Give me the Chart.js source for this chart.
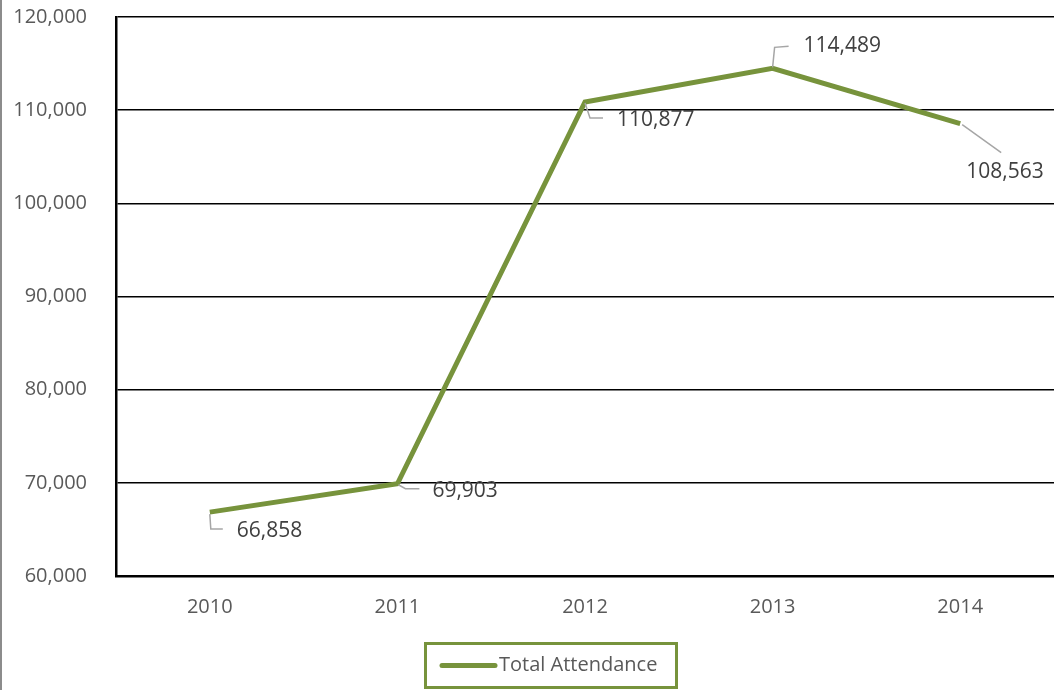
<!DOCTYPE html>
<html>
<head>
<meta charset="utf-8">
<script src="https://cdn.jsdelivr.net/npm/chart.js@4"></script>
<style>
  html, body { margin: 0; padding: 0; background: #fff; }
  #wrap { width: 1054px; height: 690px; position: relative; }
</style>
</head>
<body>
<div id="wrap"><canvas id="attendanceChart"></canvas></div>
<script>
// === Datos ===
const years = ['2010', '2011', '2012', '2013', '2014'];
const attendance = [66858, 69903, 110877, 114489, 108563];
const seriesLabel = 'Total Attendance';
const yTicks = [60000, 70000, 80000, 90000, 100000, 110000, 120000];

const green = '#77933C';
const font = '"Open Sans", "Noto Sans", sans-serif';

// leader lines + label offsets (pixels from each point)
const labelStyle = [
    { leader: [[0, 2], [1, 17], [13, 17]], dx: 27, dy: 19, align: 'left' },
    { leader: [[1, 1], [8, 5], [22, 5]], dx: 35, dy: 7, align: 'left' },
    { leader: [[0, 1], [5, 16], [18, 16]], dx: 32, dy: 18, align: 'left' },
    { leader: [[0, -1], [2, -21], [16, -22]], dx: 31, dy: -22, align: 'left' },
    { leader: [[2, 1], [41, 29]], dx: 6, dy: 48, align: 'left' }
];

// === Etiquetas con líneas guía ===
const dataLabels = {
    id: 'dataLabels',
    afterDatasetsDraw(chart) {
        const ctx = chart.ctx;
        const meta = chart.getDatasetMeta(0);
        ctx.save();
        meta.data.forEach((pt, i) => {
            const s = labelStyle[i];
            ctx.strokeStyle = '#A6A6A6';
            ctx.lineWidth = 1.5;
            ctx.beginPath();
            s.leader.forEach((o, j) => {
                if (j === 0) ctx.moveTo(pt.x + o[0], pt.y + o[1]);
                else ctx.lineTo(pt.x + o[0], pt.y + o[1]);
            });
            ctx.stroke();
            ctx.fillStyle = '#404040';
            ctx.font = '21px ' + font;
            ctx.textAlign = s.align;
            ctx.textBaseline = 'middle';
            ctx.fillText(attendance[i].toLocaleString('en-US'), pt.x + s.dx, pt.y + s.dy);
        });
        ctx.restore();
    }
};

// === Leyenda con borde + línea gris izquierda ===
const boxLegend = {
    id: 'boxLegend',
    afterDraw(chart) {
        const ctx = chart.ctx;
        ctx.save();
        ctx.fillStyle = '#8C8C8C';
        ctx.fillRect(0, 0, 2, chart.height);

        ctx.strokeStyle = green;
        ctx.lineWidth = 3;
        ctx.strokeRect(425.5, 643.5, 251, 44);

        ctx.lineWidth = 5;
        ctx.lineCap = 'round';
        ctx.beginPath();
        ctx.moveTo(442, 665.5);
        ctx.lineTo(495, 665.5);
        ctx.stroke();

        ctx.fillStyle = '#595959';
        ctx.font = '20px ' + font;
        ctx.textAlign = 'left';
        ctx.textBaseline = 'middle';
        ctx.fillText(chart.data.datasets[0].label, 499, 665);
        ctx.restore();
    }
};

new Chart(document.getElementById('attendanceChart'), {
    type: 'line',
    data: {
        labels: years,
        datasets: [{
            label: seriesLabel,
            data: attendance,
            borderColor: green,
            backgroundColor: green,
            borderWidth: 5,
            pointRadius: 0,
            tension: 0,
            borderJoinStyle: 'miter'
        }]
    },
    options: {
        responsive: true,
        maintainAspectRatio: false,
        animation: false,
        layout: { padding: { top: 17, right: 0, left: 0, bottom: 0 } },
        plugins: {
            legend: { display: false },
            tooltip: { enabled: false }
        },
        scales: {
            x: {
                offset: true,
                grid: { display: false, drawTicks: false },
                border: { display: true, color: '#000', width: 2.5 },
                ticks: { color: '#595959', font: { family: font, size: 20 }, padding: 19, maxRotation: 0 },
                afterFit(scale) { scale.height = 114; scale.paddingLeft = 0; scale.paddingRight = 0; }
            },
            y: {
                min: 60000,
                max: 120000,
                afterBuildTicks(scale) { scale.ticks = yTicks.map(v => ({ value: v })); },
                grid: { color: '#000', lineWidth: 1.5, drawTicks: false },
                border: { display: true, color: '#000', width: 2.5 },
                ticks: {
                    color: '#595959',
                    font: { family: font, size: 20 },
                    padding: 29,
                    callback: v => v.toLocaleString('en-US')
                },
                afterFit(scale) { scale.width = 116; scale.paddingTop = 0; scale.paddingBottom = 0; }
            }
        }
    },
    plugins: [dataLabels, boxLegend]
});
</script>
</body>
</html>
